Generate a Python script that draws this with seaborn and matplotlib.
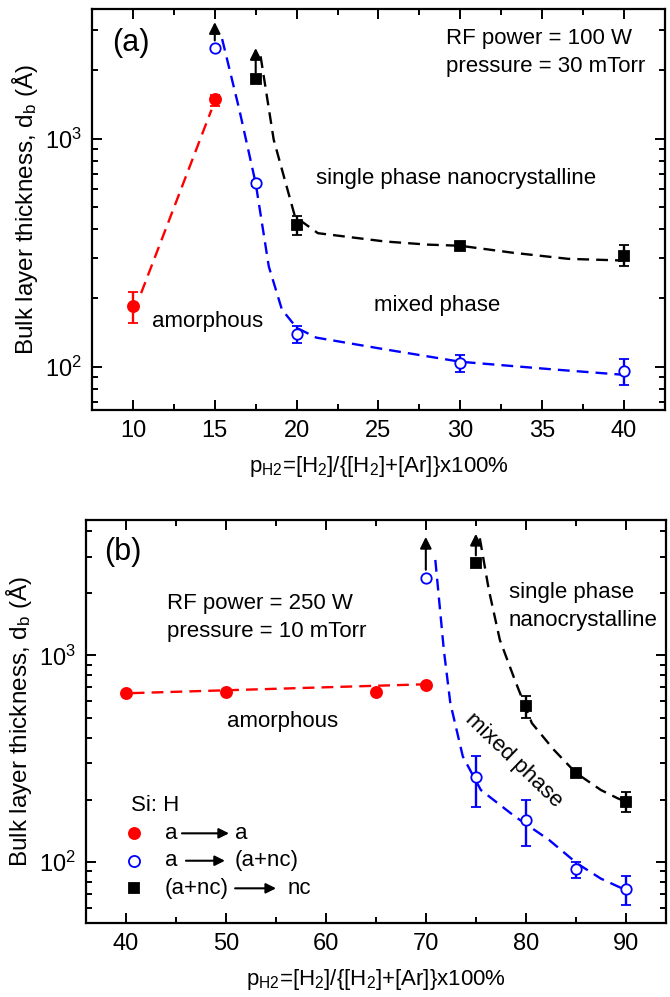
import numpy as np
import pandas as pd
import matplotlib
matplotlib.use("Agg")
import matplotlib.pyplot as plt
import seaborn as sns
from matplotlib.ticker import MultipleLocator, LogLocator, NullFormatter

sns.set_style("ticks")
plt.rcParams['font.family'] = ['Liberation Sans', 'DejaVu Sans']
plt.rcParams['mathtext.fontset'] = 'custom'
plt.rcParams['mathtext.rm'] = 'Liberation Sans'
plt.rcParams['mathtext.it'] = 'Liberation Sans:italic'
for k in ['text.color', 'axes.labelcolor', 'xtick.color', 'ytick.color', 'axes.edgecolor']:
    plt.rcParams[k] = 'black'

# ---- panel (a): RF 100 W, 30 mTorr ----
a_red_x = [10, 15]
a_red_y = [184, 1494]
a_red_lo = [156, 1396]
a_red_hi = [213, 1560]

a_blue_x = [15, 17.5, 20, 30, 40]
a_blue_y = [2514, 637, 139, 104, 96]
a_blue_lo = [2514, 622, 127, 95, 83]
a_blue_hi = [2514, 652, 151, 112, 108]

a_black_x = [17.5, 20, 30, 40]
a_black_y = [1828, 417, 339, 307]
a_black_lo = [1828, 379, 328, 275]
a_black_hi = [1828, 456, 350, 341]

# guide-to-the-eye curves
a_blue_gx = [15.45, 16.5, 17.5, 18.3, 19.1, 20, 21.2, 25.4, 30, 35.8, 40]
a_blue_gy = [2738, 1341, 637, 275, 178, 148, 134, 119, 105, 97, 92]
a_black_gx = [17.8, 18.6, 19.9, 21.3, 25.4, 28.0, 30, 33.2, 36.6, 40]
a_black_gy = [2300, 990, 455, 385, 354, 343, 339, 316, 297, 292]
a_red_gx = [10.5, 14.8]
a_red_gy = [210, 1340]

# lower-bound arrows (x, from, to)
a_arrows = [(15, 2700, 3250), (17.5, 1950, 2500)]

# ---- panel (b): RF 250 W, 10 mTorr ----
b_red_x = [40, 50, 65, 70]
b_red_y = [656, 664, 668, 720]
b_red_gx = [40.7, 70]
b_red_gy = [657, 725]

b_blue_x = [70, 75, 80, 85, 90]
b_blue_y = [2384, 257, 160, 92, 74]
b_blue_lo = [2384, 185, 119, 84, 62]
b_blue_hi = [2384, 326, 200, 100, 85.5]

b_black_x = [75, 80, 85, 90]
b_black_y = [2812, 569, 270, 196]
b_black_lo = [2812, 500, 262, 175]
b_black_hi = [2812, 637, 278, 217]

b_blue_gx = [70.95, 71.8, 72.45, 73.7, 75.5, 78.9, 82.3, 85.1, 87.5, 90]
b_blue_gy = [2900, 1063, 587, 324, 223, 166, 128, 98.5, 83, 73]
b_black_gx = [75.4, 76.3, 77.4, 78.9, 80.6, 82.8, 85, 87.5, 89.2, 90]
b_black_gy = [3690, 2075, 1189, 760, 470, 349, 270, 223, 203, 196]

b_arrows = [(70, 2600, 3750), (75, 3050, 3880)]

RED = '#ff0000'
BLUE = '#0000ff'
BLACK = '#000000'
FS = 16

fig = plt.figure(figsize=(6.7, 9.97), dpi=100)
ax_a = fig.add_axes([0.1373, 0.5888, 0.8552, 0.4019])
ax_b = fig.add_axes([0.1279, 0.0742, 0.8660, 0.4047])


def guide(ax, gx, gy, color):
    df = pd.DataFrame({'x': gx, 'y': gy})
    sns.lineplot(data=df, x='x', y='y', ax=ax, color=color, lw=1.7,
                 linestyle=(0, (5, 3)), estimator=None, sort=False)


def points(ax, x, y, lo, hi, color, marker, ms, filled=True):
    y = np.array(y, float)
    err = None
    if lo is not None:
        err = [y - np.array(lo, float), np.array(hi, float) - y]
    ax.errorbar(x, y, yerr=err, fmt=marker, ms=ms, color=color,
                mfc=color if filled else 'white', mec=color, mew=1.3,
                elinewidth=1.7, capsize=3.5, capthick=1.7, zorder=5)


def arrows(ax, arr):
    for x, y0, y1 in arr:
        ax.annotate('', xy=(x, y1), xytext=(x, y0),
                    arrowprops=dict(arrowstyle='-|>', color='black', lw=1.5,
                                    mutation_scale=17, shrinkA=0, shrinkB=0))


def style(ax, xlim, ylim, xmaj, xmin):
    ax.set_yscale('log')
    ax.set_xlim(*xlim)
    ax.set_ylim(*ylim)
    ax.xaxis.set_major_locator(MultipleLocator(xmaj))
    ax.xaxis.set_minor_locator(MultipleLocator(xmin))
    ax.yaxis.set_major_locator(LogLocator(base=10))
    ax.yaxis.set_minor_locator(LogLocator(base=10, subs=np.arange(2, 10)))
    ax.yaxis.set_minor_formatter(NullFormatter())
    ax.tick_params(which='both', direction='in', top=True, right=True,
                   width=1.4, labelsize=17)
    ax.tick_params(which='major', length=7, pad=7)
    ax.tick_params(which='minor', length=4)
    for s in ax.spines.values():
        s.set_linewidth(1.6)
    ax.set_xlabel(r'p$_{\rm H2}$=[H$_{\rm 2}$]/{[H$_{\rm 2}$]+[Ar]}x100%',
                  fontsize=16, labelpad=9)
    ax.set_ylabel(r'Bulk layer thickness, d$_{\rm b}$ ($\rm\AA$)',
                  fontsize=17.5, labelpad=4)


# panel (a)
guide(ax_a, a_red_gx, a_red_gy, RED)
guide(ax_a, a_blue_gx, a_blue_gy, BLUE)
guide(ax_a, a_black_gx, a_black_gy, BLACK)
points(ax_a, a_red_x, a_red_y, a_red_lo, a_red_hi, RED, 'o', 8)
points(ax_a, a_blue_x, a_blue_y, a_blue_lo, a_blue_hi, BLUE, 'o', 7.5, filled=False)
points(ax_a, a_black_x, a_black_y, a_black_lo, a_black_hi, BLACK, 's', 6.5)
arrows(ax_a, a_arrows)
style(ax_a, (7.5, 42.5), (64.5, 3700), 5, 2.5)

ta = ax_a.transAxes
ax_a.text(0.035, 0.916, '(a)', transform=ta, fontsize=22, va='center')
ax_a.text(0.618, 0.926, 'RF power = 100 W', transform=ta, fontsize=FS, va='center')
ax_a.text(0.618, 0.857, 'pressure = 30 mTorr', transform=ta, fontsize=FS, va='center')
ax_a.text(0.391, 0.577, 'single phase nanocrystalline', transform=ta, fontsize=FS, va='center')
ax_a.text(0.492, 0.260, 'mixed phase', transform=ta, fontsize=FS, va='center')
ax_a.text(0.105, 0.220, 'amorphous', transform=ta, fontsize=FS, va='center')

# panel (b)
guide(ax_b, b_red_gx, b_red_gy, RED)
guide(ax_b, b_blue_gx, b_blue_gy, BLUE)
guide(ax_b, b_black_gx, b_black_gy, BLACK)
points(ax_b, b_red_x, b_red_y, None, None, RED, 'o', 8)
points(ax_b, b_blue_x, b_blue_y, b_blue_lo, b_blue_hi, BLUE, 'o', 7.5, filled=False)
points(ax_b, b_black_x, b_black_y, b_black_lo, b_black_hi, BLACK, 's', 6.5)
arrows(ax_b, b_arrows)
style(ax_b, (36, 94), (50.6, 4550), 10, 5)

tb = ax_b.transAxes
ax_b.text(0.032, 0.920, '(b)', transform=tb, fontsize=22, va='center')
ax_b.text(0.140, 0.793, 'RF power = 250 W', transform=tb, fontsize=FS, va='center')
ax_b.text(0.140, 0.722, 'pressure = 10 mTorr', transform=tb, fontsize=FS, va='center')
ax_b.text(0.729, 0.819, 'single phase', transform=tb, fontsize=FS, va='center')
ax_b.text(0.729, 0.751, 'nanocrystalline', transform=tb, fontsize=FS, va='center')
ax_b.text(0.2435, 0.499, 'amorphous', transform=tb, fontsize=FS, va='center')
ax_b.text(0.738, 0.404, 'mixed phase', transform=tb, fontsize=FS, va='center',
          ha='center', rotation=-44, rotation_mode='anchor')

# hand-made legend
ax_b.text(0.0776, 0.2924, 'Si: H', transform=tb, fontsize=FS, va='center')
leg_rows = [
    (0.2223, RED, 'o', True, 'a', 0.1367, 0.1659, 0.2470, 'a', 0.2575),
    (0.1544, BLUE, 'o', False, 'a', 0.1367, 0.1728, 0.2400, '(a+nc)', 0.2575),
    (0.0860, BLACK, 's', True, '(a+nc)', 0.1367, 0.2575, 0.3281, 'nc', 0.3486),
]
for y, c, m, filled, t1, x1, ax0, ax1, t2, x2 in leg_rows:
    ax_b.plot([0.0827], [y], marker=m, ms=8 if m == 'o' else 6.5, color=c,
              mfc=c if filled else 'white', mec=c, mew=1.3, transform=tb,
              linestyle='none')
    ax_b.text(x1, y, t1, transform=tb, fontsize=FS, va='center')
    ax_b.annotate('', xy=(ax1, y), xytext=(ax0, y), xycoords=tb, textcoords=tb,
                  arrowprops=dict(arrowstyle='-|>', color='black', lw=1.5,
                                  mutation_scale=15, shrinkA=0, shrinkB=0))
    ax_b.text(x2, y, t2, transform=tb, fontsize=FS, va='center')

fig.savefig('out.png', dpi=100)
